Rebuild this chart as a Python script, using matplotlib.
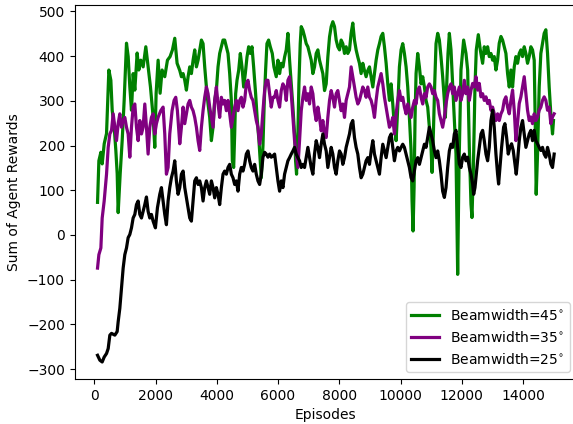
import matplotlib
matplotlib.use('Agg')
import matplotlib.pyplot as plt

# Beamwidth = 45 deg
green_ep = [103, 147, 212, 255, 321, 397, 473, 538, 582, 647, 701, 745, 777, 843, 908, 973, 1049, 1104, 1158, 1212,
            1267, 1321, 1397, 1451, 1517, 1593, 1680, 1756, 1832, 1919, 1973, 2017, 2082, 2147, 2212, 2299, 2387, 2473,
            2550, 2626, 2702,
            2789, 2843, 2898, 2952, 3006, 3061, 3115, 3169, 3224, 3278, 3333, 3387, 3441, 3496, 3550, 3604, 3659, 3713,
            3767, 3822, 3876, 3930, 3985, 4039, 4093, 4148, 4202, 4256, 4311, 4365, 4420, 4474, 4506, 4550, 4583, 4615,
            4659, 4713, 4767, 4822, 4876, 4930, 4985, 5039, 5093, 5148, 5202, 5267, 5322, 5376, 5452, 5507, 5550, 5594,
            5637, 5691, 5746, 5811, 5865, 5941, 5996,
            6050, 6104, 6159, 6213, 6267, 6322, 6376, 6431, 6485, 6539, 6572, 6604, 6648, 6681, 6724, 6757, 6811, 6865,
            6920, 6974, 7028, 7083, 7137, 7191, 7246, 7300, 7354, 7409, 7463, 7518, 7572, 7626, 7681, 7735, 7789, 7844,
            7898, 7952, 8007, 8061, 8115, 8170, 8224, 8278, 8333, 8387, 8441, 8496, 8550, 8605, 8659, 8713, 8768, 8822,
            8876, 8931,
            8986, 9040, 9095, 9149, 9203, 9258, 9312, 9366, 9421, 9475, 9530, 9584, 9638, 9693, 9747, 9801, 9856, 9910,
            9964, 10019, 10073, 10127, 10182, 10236, 10290, 10345, 10377, 10410, 10443, 10475, 10508, 10562, 10617,
            10671, 10725, 10780, 10834, 10888, 10943, 10997, 11030, 11073, 11117, 11160, 11215, 11269, 11323, 11377,
            11432, 11464, 11508, 11551, 11595, 11649,
            11812, 11867, 11910, 11975, 12062, 12138, 12193, 12247, 12302, 12334, 12378, 12432, 12475, 12541, 12606,
            12682, 12736, 12791, 12845, 12899, 12954, 13008, 13062, 13117, 13171, 13225, 13280, 13334, 13389, 13443,
            13497, 13552, 13606, 13660, 13715, 13769, 13823, 13878, 13932, 13986, 14041, 14095, 14149, 14204, 14258,
            14312, 14367, 14399, 14432, 14476, 14530, 14584, 14638, 14693, 14747, 14802, 14856, 14910, 14965, 14997]
green_val = [73, 166, 185, 159, 204, 227, 369, 346, 279, 241, 189, 137, 50, 137, 211, 301, 429, 399, 331, 279,
             361, 324, 407, 369, 391, 376, 421, 376, 331, 264, 196, 317, 391, 317, 369, 354, 391, 399,
             414, 440, 384,
             368, 354, 361, 346, 324, 354, 376, 361, 391, 414, 376, 391, 414, 436, 428, 376, 331, 293,
             263, 211, 241, 301, 324, 376, 406, 421, 436, 436, 421, 406, 361, 301, 166, 151, 226, 316,
             346, 368, 406, 376, 331, 361, 398, 421, 406, 421, 376, 316, 256, 211, 128, 200, 300, 370,
             428, 436, 421, 406, 376, 354, 391,
             361, 384, 376, 398, 414, 451, 391, 338, 286, 226, 166, 136, 226, 338, 428, 466, 458, 444,
             428, 421, 406, 391, 361, 376, 406, 414, 391, 376, 361, 323, 338, 398, 443, 466, 477, 466,
             436, 421, 414, 436, 428, 406, 421, 406, 414, 451, 474, 436, 414, 398, 384, 361, 384, 368,
             354, 368,
             376, 354, 331, 361, 391, 414, 428, 444, 451, 421, 384, 338, 301, 338, 293, 241, 211, 286,
             376, 414, 428, 406, 376, 331, 263, 189, 76, 9, 106, 263, 361, 406, 376,
             338, 354, 331, 301, 286, 241, 196, 140, 226, 338, 428, 451, 436, 398, 354,
             301, 263, 338, 406, 451, 414,
             181, -88, 150, 369, 436, 406, 369, 196, 69, 39, 144, 331, 414, 448, 414,
             384, 421, 406, 421, 399, 406, 391, 399, 369, 391, 429, 444, 436, 421, 406,
             361, 331, 369, 331, 376, 399, 384, 406, 414, 399, 421, 406, 384, 399, 421,
             414, 391, 256, 91, 181, 331, 406, 429, 451, 459, 406, 331, 271, 226, 256]

# Beamwidth = 35 deg
purple_ep = [103, 147, 212, 255, 320, 397, 451, 505, 560, 614, 668, 723, 777, 831, 886, 940, 994, 1049, 1103, 1157,
             1212, 1266, 1321, 1375, 1429, 1484, 1538, 1592, 1647, 1701, 1755, 1810, 1864, 1918, 1973, 2027, 2081,
             2168, 2244, 2299, 2353, 2408, 2462, 2538, 2603, 2658, 2712,
             2789, 2843, 2898, 2952, 3006, 3061, 3115, 3169, 3224, 3278, 3333, 3387, 3441, 3496, 3550, 3604, 3659,
             3713, 3767, 3822, 3876, 3930, 3985, 4039, 4093, 4148, 4202, 4256, 4311, 4365, 4420, 4474, 4528, 4583,
             4637, 4691, 4746, 4800, 4854, 4909, 4963, 5017, 5072, 5126, 5180, 5235, 5289, 5343, 5398, 5452, 5507,
             5561, 5615, 5670, 5724, 5778, 5833,
             5887, 5941, 5996, 6050, 6104, 6159, 6213, 6267, 6322, 6376, 6431, 6485, 6539, 6594, 6648, 6702, 6757,
             6811, 6865, 6920, 6974, 7028, 7083, 7137, 7191, 7246, 7300, 7354, 7409, 7463, 7518, 7572, 7626, 7681,
             7735, 7789, 7844, 7898, 7952, 8007, 8061, 8115, 8170, 8224, 8278, 8333, 8387, 8441, 8496, 8550, 8605,
             8659, 8713, 8768, 8822, 8876, 8931,
             8986, 9040, 9095, 9149, 9203, 9258, 9312, 9366, 9421, 9475, 9530, 9584, 9638, 9693, 9747, 9801, 9856,
             9910, 9964, 10019, 10073, 10127, 10182, 10236, 10290, 10345, 10399, 10454, 10508, 10562, 10617, 10671,
             10725, 10780, 10834, 10888, 10943, 10997, 11051, 11106, 11160, 11214, 11269, 11323, 11377, 11432,
             11486, 11540, 11595, 11649, 11704,
             11758, 11812, 11867, 11921, 11975, 12030, 12084, 12138, 12193, 12247, 12302, 12356, 12410, 12465,
             12519, 12573, 12628, 12682, 12736, 12791, 12845, 12899, 12954, 13008, 13062, 13117, 13171, 13225,
             13280, 13334, 13389, 13443, 13497, 13552, 13606, 13660, 13715, 13769, 13823, 13878, 13932, 13986,
             14041, 14095, 14149, 14204, 14258, 14312, 14367, 14421, 14476, 14530, 14584, 14638, 14693, 14747,
             14802, 14856, 14910, 14965, 15019]
purple_val = [-74, -44, -29, 38, 76, 136, 196, 226, 234, 271, 241, 211, 249, 271, 241, 256, 263, 241, 226, 174,
              241, 286, 293, 241, 211, 256, 226, 241, 293, 241, 181, 241, 263, 271, 226, 249, 263,
              278, 286, 226, 136, 151, 226, 278, 301, 308, 278,
              204, 241, 286, 249, 271, 293, 301, 286, 278, 263, 241, 211, 189, 241, 278, 308, 331,
              316, 286, 263, 241, 301, 331, 293, 263, 308, 293, 301, 278, 301, 271, 241, 263, 286,
              301, 278, 301, 308, 286, 301, 338, 346, 323, 308, 301, 278, 256, 241, 203, 226, 278,
              323, 346, 346, 316, 286, 308,
              308, 323, 301, 286, 323, 338, 331, 301, 346, 354, 316, 263, 211, 181, 151, 211, 278,
              308, 331, 301, 316, 293, 331, 316, 278, 256, 286, 263, 233, 256, 226, 218, 263, 301,
              323, 308, 286, 316, 323, 301, 278, 293, 263, 301, 316, 331, 376, 354, 331, 308, 293,
              301, 316, 331, 323, 308, 331,
              308, 301, 286, 263, 301, 331, 346, 361, 338, 308, 286, 263, 241, 248, 263, 226, 271,
              301, 323, 301, 308, 286, 271, 293, 278, 263, 286, 301, 293, 323, 331, 308,
              293, 316, 308, 331, 338, 331, 316, 323, 308, 301, 271, 256, 241, 263,
              293, 316, 331, 338, 316,
              331, 301, 316, 331, 301, 316, 346, 316, 331, 301, 324, 339, 331, 354,
              324, 339, 309, 316, 301, 309, 294, 301, 279, 286, 271, 256, 271, 256,
              271, 279, 301, 309, 286, 271, 301, 324, 279, 211, 250, 294, 309, 331,
              354, 316, 279, 256, 264, 249, 271, 256, 264, 279, 286, 301, 309, 301,
              279, 286, 249, 264, 271]

# Beamwidth = 25 deg
black_ep = [103, 179, 255, 320, 397, 451, 505, 560, 668, 744, 777, 831, 886, 940, 994, 1049, 1103, 1157, 1212, 1266,
            1321, 1375, 1429, 1484, 1538, 1592, 1647, 1701, 1755, 1810, 1864, 1918, 1994, 2060, 2136, 2190, 2244,
            2299, 2353, 2408, 2462, 2516, 2571, 2625, 2679, 2734,
            2789, 2843, 2898, 2952, 3006, 3061, 3115, 3169, 3224, 3278, 3333, 3387, 3441, 3496, 3550, 3604, 3659,
            3713, 3767, 3822, 3876, 3930, 3985, 4039, 4093, 4148, 4202, 4256, 4311, 4365, 4420, 4474, 4528, 4583,
            4637, 4691, 4746, 4800, 4854, 4909, 4963, 5017, 5072, 5126, 5180, 5235, 5289, 5343, 5398, 5452, 5507,
            5561, 5615, 5670, 5724, 5778, 5833,
            5887, 5941, 5996, 6050, 6104, 6159, 6213, 6267, 6322, 6376, 6431, 6485, 6539, 6594, 6648, 6702, 6757,
            6811, 6865, 6920, 6974, 7028, 7083, 7137, 7191, 7246, 7300, 7354, 7409, 7463, 7518, 7572, 7626, 7681,
            7735, 7789, 7844, 7898, 7952, 8007, 8061, 8115, 8170, 8224, 8278, 8333, 8387, 8441, 8496, 8550, 8605,
            8659, 8713, 8768, 8822, 8876, 8931,
            8986, 9040, 9095, 9149, 9203, 9258, 9312, 9366, 9421, 9475, 9530, 9584, 9638, 9693, 9747, 9801, 9856,
            9910, 9964, 10019, 10073, 10127, 10182, 10236, 10290, 10345, 10399, 10454, 10508, 10562, 10617, 10671,
            10725, 10780, 10834, 10888, 10943, 10997, 11051, 11106, 11160, 11214, 11269, 11323, 11377, 11432,
            11486, 11540, 11595, 11649, 11704,
            11758, 11812, 11867, 11921, 11975, 12030, 12084, 12138, 12193, 12247, 12302, 12356, 12389, 12432,
            12475, 12519, 12573, 12628, 12682, 12736, 12791, 12845, 12899, 12954, 13008, 13062, 13117, 13171,
            13204, 13247, 13302, 13367, 13410, 13465, 13519, 13573, 13628, 13682, 13736, 13780, 13823, 13878,
            13932, 13986, 14041, 14095, 14149, 14204, 14258, 14312, 14367, 14421, 14476, 14530, 14584, 14638,
            14693, 14747, 14802, 14856, 14910, 14965, 15019]
black_val = [-269, -280, -284, -273, -265, -254, -224, -220, -224, -216, -194, -164, -119, -74, -44, -29, -6, 1, 16, 38,
             46, 68, 76, 46, 38, 53, 68, 85, 53, 38, 46, 31, 16, 61, 91, 106, 76,
             46, 23, 76, 106, 128, 143, 166, 121, 91,
             106, 136, 143, 106, 83, 61, 38, 31, 76, 121, 128, 113, 121, 106, 76, 106, 121,
             106, 91, 121, 106, 83, 106, 91, 68, 106, 136, 143, 136, 151, 158, 136, 128, 113,
             121, 98, 136, 151, 143, 158, 181, 188, 166, 151, 143, 158, 136, 121, 113, 136, 174,
             185, 181, 174, 181, 174, 177,
             181, 151, 121, 98, 121, 106, 136, 151, 166, 173, 181, 188, 196, 181, 173, 166, 151,
             158, 151, 173, 196, 173, 151, 136, 181, 211, 196, 173, 203, 226, 203, 188, 151, 173,
             196, 181, 151, 136, 166, 188, 181, 158, 173, 196, 211, 226, 248, 256, 218, 196, 181,
             151, 128, 136, 151, 166, 173,
             158, 188, 211, 181, 166, 151, 136, 173, 203, 188, 173, 196, 218, 226, 196, 166, 188,
             196, 188, 196, 203, 196, 181, 166, 151, 128, 121, 143, 166, 173, 158, 173,
             188, 203, 196, 218, 241, 226, 211, 188, 173, 188, 166, 136, 98, 84,
             106, 151, 188, 203, 196,
             226, 234, 196, 159, 151, 174, 181, 166, 174, 151, 136, 114, 91, 106,
             136, 166, 196, 226, 234, 211, 181, 166, 196, 256, 279, 241, 181, 136,
             114, 151, 196, 241, 249, 219, 181, 196, 204, 189, 159, 136, 166, 211,
             241, 256, 226, 196, 211, 226, 234, 211, 234, 211, 204, 196, 189, 196,
             181, 174, 196, 181, 159, 151, 181]

fig = plt.figure(figsize=(5.73, 4.24), dpi=100)
ax = fig.add_axes([74.7 / 573, 45 / 424, 502.3 / 573, 374.3 / 424])

ax.plot(green_ep, green_val, color='green', lw=2.3, label=r'Beamwidth=45$^{\circ}$')
ax.plot(purple_ep, purple_val, color='purple', lw=2.3, label=r'Beamwidth=35$^{\circ}$')
ax.plot(black_ep, black_val, color='black', lw=2.3, label=r'Beamwidth=25$^{\circ}$')

ax.set_xlabel('Episodes')
ax.set_ylabel('Sum of Agent Rewards')
ax.legend(loc='lower right')

fig.savefig('out.png')
